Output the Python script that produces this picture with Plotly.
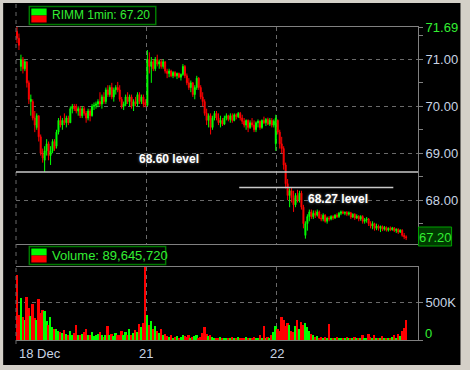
import plotly.graph_objects as go

# ---------------- data ----------------
day_labels = ["18 Dec", "21", "22"]
ticker_text = "RIMM 1min: 67.20"
volume_text = "Volume: 89,645,720"
last_price = 67.20
price_max = 71.69
levels = [68.60, 68.27]
level_labels = ["68.60 level", "68.27 level"]
price_ticks = [68.0, 69.0, 70.0, 71.0]
price_minor = [67.5, 68.5, 69.5, 70.5, 71.5]
vol_ticks = [500]
vol_tick_labels = ["500K"]

opens = [
    71.60, 71.45, 70.85, 71.00, 70.80, 70.95, 70.50, 70.10, 70.10, 69.75,
    69.55, 69.80, 69.35, 69.00, 68.85, 69.05, 69.20, 68.95, 69.05, 69.25,
    69.15, 69.45, 69.70, 69.60, 69.70, 69.65, 69.75, 69.65, 69.95, 70.00,
    70.00, 69.90, 69.95, 69.80, 69.95, 69.85, 69.75, 69.90, 69.80, 70.00,
    70.02, 70.05, 70.10, 70.05, 70.20, 70.10, 70.35, 70.25, 70.40, 70.20,
    70.35, 70.40, 70.35, 70.15, 70.00, 70.05, 70.20, 70.10, 70.20, 70.00,
    70.10, 70.05, 70.25, 70.10, 70.20, 70.08,
    70.02, 71.00, 70.85, 70.95, 70.80, 71.00, 70.90, 70.95, 70.85, 70.95,
    70.75, 70.70, 70.75, 70.65, 70.72, 70.65, 70.70, 70.62, 70.68, 70.85,
    70.65, 70.50, 70.40, 70.50, 70.25, 70.40, 70.60, 70.40, 70.20, 70.10,
    69.85, 69.70, 69.80, 69.55, 69.75, 69.85, 69.75, 69.65, 69.70, 69.62,
    69.75, 69.80, 69.72, 69.80, 69.70, 69.82, 69.78, 69.85, 69.75, 69.68,
    69.60, 69.70, 69.55, 69.65, 69.60, 69.50, 69.65, 69.68, 69.55, 69.70,
    69.65, 69.72, 69.62, 69.70, 69.60, 69.20,
    69.70, 69.45, 69.20, 69.10, 68.75, 68.35, 68.10, 68.20, 68.05, 67.90,
    68.10, 68.00, 68.15, 67.85, 67.25, 67.50, 67.65, 67.75, 67.65, 67.72,
    67.68, 67.75, 67.62, 67.60, 67.68, 67.55, 67.62, 67.60, 67.65, 67.62,
    67.68, 67.65, 67.72, 67.75, 67.72, 67.74, 67.70, 67.73, 67.64, 67.70,
    67.62, 67.66, 67.60, 67.65, 67.55, 67.58, 67.60, 67.50, 67.45, 67.50,
    67.40, 67.45, 67.40, 67.44, 67.38, 67.42, 67.36, 67.40, 67.37, 67.41,
    67.35, 67.38, 67.32, 67.36, 67.25, 67.22,
]
highs = [
    71.69, 71.55, 71.10, 71.05, 71.00, 70.95, 70.55, 70.25, 70.15, 69.90,
    69.85, 69.80, 69.40, 69.10, 69.15, 69.30, 69.25, 69.15, 69.30, 69.30,
    69.50, 69.75, 69.80, 69.75, 69.85, 69.80, 69.80, 70.00, 70.05, 70.05,
    70.05, 70.00, 70.00, 70.00, 70.00, 69.90, 69.95, 69.95, 70.05, 70.08,
    70.10, 70.15, 70.30, 70.25, 70.30, 70.40, 70.45, 70.45, 70.50, 70.40,
    70.45, 70.52, 70.45, 70.20, 70.10, 70.25, 70.30, 70.25, 70.25, 70.15,
    70.20, 70.30, 70.30, 70.25, 70.25, 70.15,
    71.20, 71.15, 71.05, 71.00, 71.05, 71.10, 71.00, 71.00, 71.00, 70.95,
    70.80, 70.80, 70.78, 70.75, 70.75, 70.72, 70.72, 70.70, 70.90, 70.88,
    70.70, 70.60, 70.55, 70.52, 70.45, 70.65, 70.62, 70.45, 70.30, 70.15,
    69.95, 69.85, 69.85, 69.80, 69.90, 69.90, 69.85, 69.80, 69.75, 69.80,
    69.85, 69.82, 69.85, 69.85, 69.85, 69.85, 69.88, 69.88, 69.82, 69.75,
    69.72, 69.72, 69.70, 69.75, 69.70, 69.68, 69.72, 69.70, 69.72, 69.78,
    69.75, 69.76, 69.75, 69.75, 69.72, 69.82,
    69.72, 69.50, 69.35, 69.15, 68.80, 68.45, 68.25, 68.27, 68.20, 68.15,
    68.22, 68.20, 68.20, 67.90, 67.55, 67.70, 67.80, 67.80, 67.78, 67.78,
    67.80, 67.78, 67.70, 67.72, 67.70, 67.65, 67.66, 67.68, 67.68, 67.70,
    67.72, 67.75, 67.78, 67.78, 67.76, 67.77, 67.76, 67.75, 67.72, 67.72,
    67.70, 67.68, 67.68, 67.68, 67.62, 67.64, 67.62, 67.55, 67.55, 67.52,
    67.50, 67.48, 67.46, 67.46, 67.45, 67.44, 67.42, 67.44, 67.43, 67.42,
    67.40, 67.40, 67.38, 67.38, 67.30, 67.25,
]
lows = [
    71.35, 71.20, 70.75, 70.70, 70.75, 70.40, 70.05, 69.80, 69.70, 69.45,
    69.50, 69.25, 68.95, 68.80, 68.60, 68.95, 68.85, 68.75, 69.00, 69.05,
    69.10, 69.40, 69.55, 69.50, 69.60, 69.55, 69.60, 69.65, 69.85, 69.90,
    69.85, 69.80, 69.75, 69.75, 69.80, 69.65, 69.70, 69.68, 69.78, 69.92,
    69.95, 69.98, 70.00, 69.95, 70.05, 70.05, 70.20, 70.20, 70.15, 70.10,
    70.25, 70.30, 70.10, 69.95, 69.92, 70.00, 70.05, 70.00, 69.95, 69.90,
    70.00, 70.00, 70.05, 70.05, 69.98, 69.98,
    70.00, 70.70, 70.50, 70.75, 70.75, 70.85, 70.80, 70.80, 70.80, 70.70,
    70.60, 70.62, 70.62, 70.60, 70.62, 70.58, 70.60, 70.55, 70.65, 70.60,
    70.45, 70.35, 70.30, 70.20, 70.15, 70.35, 70.35, 70.15, 70.00, 69.80,
    69.60, 69.55, 69.40, 69.50, 69.70, 69.70, 69.60, 69.55, 69.58, 69.60,
    69.70, 69.68, 69.65, 69.65, 69.68, 69.72, 69.75, 69.70, 69.62, 69.55,
    69.50, 69.45, 69.52, 69.55, 69.45, 69.45, 69.55, 69.50, 69.52, 69.62,
    69.58, 69.60, 69.58, 69.55, 69.55, 69.05,
    69.40, 69.10, 69.00, 68.65, 68.25, 68.00, 67.85, 67.95, 67.75, 67.85,
    67.95, 67.95, 67.80, 67.40, 67.18, 67.35, 67.55, 67.60, 67.60, 67.62,
    67.65, 67.60, 67.55, 67.55, 67.52, 67.50, 67.55, 67.57, 67.58, 67.60,
    67.62, 67.62, 67.68, 67.70, 67.68, 67.66, 67.67, 67.60, 67.62, 67.58,
    67.60, 67.55, 67.56, 67.50, 67.50, 67.52, 67.45, 67.40, 67.38, 67.35,
    67.36, 67.35, 67.32, 67.34, 67.35, 67.33, 67.33, 67.34, 67.35, 67.32,
    67.30, 67.28, 67.30, 67.22, 67.17, 67.15,
]
closes = [
    71.45, 71.30, 71.00, 70.80, 70.95, 70.50, 70.15, 70.15, 69.75, 69.60,
    69.80, 69.35, 69.00, 68.90, 69.05, 69.20, 68.95, 69.05, 69.25, 69.10,
    69.45, 69.70, 69.60, 69.70, 69.65, 69.75, 69.65, 69.95, 70.00, 69.95,
    69.90, 69.95, 69.80, 69.95, 69.85, 69.75, 69.90, 69.80, 70.00, 70.02,
    70.05, 70.10, 70.05, 70.20, 70.10, 70.35, 70.25, 70.40, 70.20, 70.35,
    70.40, 70.35, 70.15, 70.00, 70.05, 70.20, 70.10, 70.20, 70.00, 70.10,
    70.05, 70.25, 70.10, 70.20, 70.05, 70.02,
    71.00, 70.85, 70.95, 70.80, 71.00, 70.90, 70.95, 70.85, 70.95, 70.75,
    70.70, 70.75, 70.65, 70.72, 70.65, 70.70, 70.62, 70.68, 70.85, 70.65,
    70.50, 70.40, 70.50, 70.25, 70.40, 70.60, 70.40, 70.20, 70.10, 69.85,
    69.70, 69.80, 69.55, 69.75, 69.85, 69.75, 69.65, 69.70, 69.62, 69.75,
    69.80, 69.72, 69.80, 69.70, 69.82, 69.78, 69.85, 69.75, 69.68, 69.60,
    69.70, 69.55, 69.65, 69.60, 69.50, 69.65, 69.68, 69.55, 69.70, 69.65,
    69.72, 69.62, 69.70, 69.60, 69.68, 69.75,
    69.45, 69.20, 69.10, 68.75, 68.35, 68.10, 68.20, 68.05, 67.90, 68.10,
    68.00, 68.15, 67.85, 67.50, 67.50, 67.65, 67.75, 67.65, 67.72, 67.68,
    67.75, 67.62, 67.60, 67.68, 67.55, 67.62, 67.60, 67.65, 67.62, 67.68,
    67.65, 67.72, 67.75, 67.72, 67.74, 67.70, 67.73, 67.64, 67.70, 67.62,
    67.66, 67.60, 67.65, 67.55, 67.58, 67.60, 67.50, 67.45, 67.50, 67.40,
    67.45, 67.40, 67.44, 67.38, 67.42, 67.36, 67.40, 67.37, 67.41, 67.35,
    67.38, 67.32, 67.36, 67.25, 67.22, 67.20,
]
volumes_k = [
    860, 330, 560, 300, 260, 570, 420, 320, 480, 290,
    260, 550, 360, 400, 380, 250, 200, 300, 170, 150,
    140, 120, 100, 90, 130, 80, 70, 120, 60, 90,
    200, 70, 60, 80, 110, 150, 70, 60, 100, 50,
    60, 80, 110, 60, 40, 70, 190, 60, 80, 50,
    90, 60, 70, 120, 60, 100, 70, 140, 60, 90,
    130, 110, 210, 170, 230, 970,
    330, 200, 250, 150, 180, 120, 90, 150, 60, 80,
    50, 40, 60, 30, 40, 50, 30, 40, 70, 50,
    40, 60, 30, 40, 50, 60, 30, 40, 90, 170,
    80, 50, 60, 40, 30, 20, 30, 40, 20, 30,
    20, 30, 20, 40, 20, 30, 40, 20, 30, 20,
    40, 30, 20, 30, 40, 20, 30, 60, 20, 190,
    30, 40, 20, 60, 100, 180,
    150, 120, 300, 260, 180, 220, 200, 120, 100, 180,
    260, 150, 240, 200, 220, 170, 120, 80, 60, 40,
    50, 30, 40, 20, 40, 30, 210, 20, 30, 20,
    40, 30, 20, 30, 20, 40, 20, 30, 20, 40,
    30, 20, 30, 60, 20, 30, 80, 40, 30, 60,
    20, 30, 20, 50, 30, 20, 30, 20, 40, 60,
    30, 80, 50, 120, 160, 260,
]
bars_per_day = 66

# ---------------- styling / layout helpers ----------------
W, H = 470, 370
ML, MR, MT, MB = 16, 47, 27, 30
PW, PH = W - ML - MR, H - MT - MB


def fx(px):
    return (px - ML) / PW


def fy(py):
    return (H - MB - py) / PH


GREEN = "#00ff00"
RED = "#ff0000"
GRID = "#6a6a6a"
AXIS = "#808080"
TICKC = "#c8d4e4"
LGREEN = "#33ee33"
FONT = "Liberation Sans, Arial, sans-serif"

idx = list(range(len(closes)))
vol_colors = [GREEN if c >= o else RED for o, c in zip(opens, closes)]
day_starts = [d * bars_per_day - 0.5 for d in range(len(day_labels))]

fig = go.Figure()
fig.add_trace(go.Candlestick(
    x=idx, open=opens, high=highs, low=lows, close=closes,
    xaxis="x", yaxis="y", whiskerwidth=0,
    increasing=dict(line=dict(color=GREEN, width=1), fillcolor=GREEN),
    decreasing=dict(line=dict(color=RED, width=1), fillcolor=RED),
    hoverinfo="skip",
))
fig.add_trace(go.Bar(
    x=idx, y=volumes_k, marker=dict(color=vol_colors, line=dict(width=0)),
    width=0.9, xaxis="x2", yaxis="y2", hoverinfo="skip",
))

xcommon = dict(
    range=[-0.5, 203], tickvals=day_starts, showticklabels=False, ticks="",
    showgrid=True, gridcolor=GRID, griddash="4px,4px", gridwidth=1,
    showline=True, mirror=True, linecolor=AXIS, linewidth=1, zeroline=False,
    fixedrange=True,
)

price_ticktext = [f"{v:.2f}" for v in price_ticks]
fig.update_layout(
    width=W, height=H,
    margin=dict(l=ML, r=MR, t=MT, b=MB, pad=0),
    paper_bgcolor="#d4d0c8", plot_bgcolor="#000000",
    showlegend=False, bargap=0,
    font=dict(family=FONT, size=13, color=TICKC),
    xaxis=dict(domain=[0, 1], anchor="y", rangeslider=dict(visible=False), **xcommon),
    xaxis2=dict(domain=[0, 1], anchor="y2", matches="x", **xcommon),
    yaxis=dict(
        domain=[fy(244), 1], anchor="x", side="right",
        range=[67.066, price_max],
        tickvals=price_ticks + [price_max],
        ticktext=price_ticktext + [f'<span style="color:{LGREEN}">{price_max:.2f}</span>'],
        ticks="outside", ticklen=4, tickcolor=AXIS,
        tickfont=dict(family=FONT, size=13, color=TICKC),
        showgrid=True, gridcolor=GRID, griddash="4px,4px",
        showline=True, linecolor=AXIS, zeroline=False,
        minor=dict(tickvals=price_minor, ticks="outside", ticklen=4,
                   tickcolor=AXIS, showgrid=False),
        fixedrange=True,
    ),
    yaxis2=dict(
        domain=[0, fy(267)], anchor="x2", side="right",
        range=[0, 968],
        tickvals=[0] + vol_ticks, ticktext=[""] + vol_tick_labels,
        ticks="outside", ticklen=4, tickcolor=AXIS,
        tickfont=dict(family=FONT, size=13, color=TICKC),
        showgrid=True, gridcolor=GRID, griddash="4px,4px",
        showline=True, linecolor=AXIS, zeroline=False, fixedrange=True,
    ),
)

shapes = []
# black window body
shapes.append(dict(type="rect", xref="paper", yref="paper", layer="below",
                   x0=fx(3), x1=fx(466), y0=fy(3), y1=fy(365),
                   fillcolor="#000000", line=dict(width=0)))
# full-height dashed line at the left
shapes.append(dict(type="line", xref="paper", yref="paper",
                   x0=fx(16), x1=fx(16), y0=fy(4), y1=fy(346),
                   line=dict(color=GRID, width=1, dash="4px,4px")))
# level lines
shapes.append(dict(type="line", xref="paper", yref="y", x0=0, x1=1,
                   y0=levels[0], y1=levels[0], line=dict(color="#c8c8c8", width=1.5)))
shapes.append(dict(type="line", xref="x", yref="y", x0=112.5, x1=190.5,
                   y0=levels[1], y1=levels[1], line=dict(color="#c8c8c8", width=1.5)))


def legend_box(x0, x1, y0, y1):
    shapes.append(dict(type="rect", xref="paper", yref="paper",
                       x0=fx(x0), x1=fx(x1), y0=fy(y0), y1=fy(y1),
                       fillcolor="#000000", line=dict(color="#007a00", width=1.5)))
    ym = (y0 + y1) / 2
    shapes.append(dict(type="rect", xref="paper", yref="paper",
                       x0=fx(x0 + 2), x1=fx(x0 + 17.5), y0=fy(y0 + 2), y1=fy(ym),
                       fillcolor=GREEN, line=dict(width=0)))
    shapes.append(dict(type="rect", xref="paper", yref="paper",
                       x0=fx(x0 + 2), x1=fx(x0 + 17.5), y0=fy(ym), y1=fy(y1 - 2),
                       fillcolor=RED, line=dict(width=0)))


legend_box(29.5, 157.5, 6.5, 24.5)
legend_box(29.5, 167.5, 246.5, 264.5)

# last price box on axis
shapes.append(dict(type="rect", xref="paper", yref="paper",
                   x0=fx(423.5), x1=fx(457), y0=fy(227), y1=fy(246),
                   fillcolor="#003a00", line=dict(color="#00a000", width=1)))

annotations = [
    dict(text=ticker_text, xref="paper", yref="paper", x=fx(50), y=fy(15.5),
         xanchor="left", yanchor="middle", showarrow=False,
         font=dict(family=FONT, size=12, color=LGREEN)),
    dict(text=volume_text, xref="paper", yref="paper", x=fx(50), y=fy(255.5),
         xanchor="left", yanchor="middle", showarrow=False,
         font=dict(family=FONT, size=13, color=LGREEN)),
    dict(text=f"{last_price:.2f}", xref="paper", yref="paper", x=fx(440.5), y=fy(237),
         xanchor="center", yanchor="middle", showarrow=False,
         font=dict(family=FONT, size=13, color=LGREEN)),
    dict(text="0", xref="paper", yref="paper", x=fx(428), y=fy(333),
         xanchor="left", yanchor="middle", showarrow=False,
         font=dict(family=FONT, size=13, color=LGREEN)),
    dict(text=day_labels[0], xref="paper", yref="paper", x=fx(17), y=fy(353),
         xanchor="left", yanchor="middle", showarrow=False,
         font=dict(family=FONT, size=13, color=TICKC)),
]
for d in (1, 2):
    annotations.append(dict(text=day_labels[d], xref="x2", yref="paper",
                            x=day_starts[d], y=fy(353), xanchor="center",
                            yanchor="middle", showarrow=False,
                            font=dict(family=FONT, size=13, color=TICKC)))
annotations.append(dict(text=f"<b>{level_labels[0]}</b>", xref="x", yref="y",
                        x=76.75, y=68.88, showarrow=False, xanchor="center", yanchor="middle",
                        font=dict(family=FONT, size=12, color="#ffffff",
                                  shadow="0px 0px 3px #777777")))
annotations.append(dict(text=f"<b>{level_labels[1]}</b>", xref="x", yref="y",
                        x=162.5, y=68.03, showarrow=False, xanchor="center", yanchor="middle",
                        font=dict(family=FONT, size=12, color="#ffffff",
                                  shadow="0px 0px 3px #777777")))

fig.update_layout(shapes=shapes, annotations=annotations)
fig.write_html("out.html", config={"displayModeBar": False},
               post_script="document.body.style.margin='0';document.body.style.overflow='hidden';")
